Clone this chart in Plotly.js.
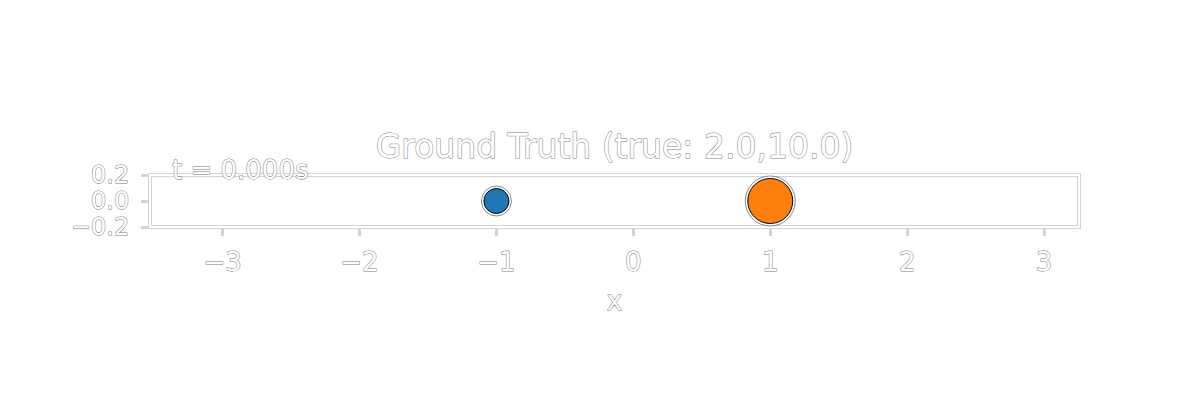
<!DOCTYPE html>
<html>
<head>
<meta charset="utf-8">
<script src="https://cdn.plot.ly/plotly-3.0.1.min.js"></script>
<style>
html,body{margin:0;padding:0;background:#fff;}
#chart{width:1200px;height:400px;}
#chart text{stroke:#7a7a7a;stroke-width:1px;paint-order:stroke fill;stroke-linejoin:round;}
</style>
</head>
<body>
<div id="chart"></div>
<script>
// Data
const positionsX = [-1, 1];
const positionsY = [0, 0];
const markerSizes = [25, 45];
const markerColors = ['#1f77b4', '#ff7f0e'];
const titleText = 'Ground Truth (true: 2.0,10.0)';
const timeLabel = 't = 0.000s';
const xTicks = [-3, -2, -1, 0, 1, 2, 3];
const yTicks = [-0.2, 0.0, 0.2];
const yTickText = ['\u22120.2', '0.0', '0.2'];
const xTickText = ['\u22123', '\u22122', '\u22121', '0', '1', '2', '3'];

const fontFam = 'DejaVu Sans, sans-serif';
const txt = (size) => ({ family: fontFam, size: size, color: '#ffffff' });

const traces = [
  { x: positionsX, y: positionsY, type: 'scatter', mode: 'markers', hoverinfo: 'skip',
    marker: { size: markerSizes.map(s => s + 5), color: '#ffffff', opacity: 1, line: { color: '#888', width: 1 } } },
  { x: positionsX, y: positionsY, type: 'scatter', mode: 'markers',
    marker: { size: markerSizes, color: markerColors, opacity: 1, line: { color: '#000', width: 1 } } }
];

const layout = {
  width: 1200, height: 400,
  paper_bgcolor: '#fff', plot_bgcolor: '#fff',
  showlegend: false,
  margin: { l: 150, r: 121, t: 175, b: 173 },
  font: txt(26),
  title: { text: titleText, xref: 'paper', x: 0.5, xanchor: 'center', yref: 'container', y: 1 - 146/400, yanchor: 'middle',
           font: txt(33) },
  xaxis: { range: [-3.53, 3.255], tickvals: xTicks, ticktext: xTickText, showgrid: false, zeroline: false,
           ticks: 'outside', ticklen: 8, tickwidth: 3, tickcolor: '#d4d4d4', showline: false,
           ticklabelstandoff: 4, tickfont: txt(26),
           title: { text: 'x', standoff: 15, font: txt(26) } },
  yaxis: { range: [-0.2, 0.2], tickvals: yTicks, ticktext: yTickText, showgrid: false, zeroline: false,
           ticks: 'outside', ticklen: 8, tickwidth: 3, tickcolor: '#d4d4d4', showline: false,
           ticklabelstandoff: 7, tickfont: txt(24) },
  shapes: [
    { type: 'rect', xref: 'paper', yref: 'paper', x0: 0, x1: 1, y0: 0, y1: 1, line: { color: '#d4d4d4', width: 4 }, layer: 'below' },
    { type: 'rect', xref: 'paper', yref: 'paper', x0: 0, x1: 1, y0: 0, y1: 1, line: { color: '#ffffff', width: 2 }, layer: 'below' }
  ],
  annotations: [
    { text: timeLabel, xref: 'paper', yref: 'paper', x: 0.0215, y: 1, xanchor: 'left', yanchor: 'middle', yshift: 5,
      showarrow: false, font: txt(26) }
  ]
};

Plotly.newPlot('chart', traces, layout, { displayModeBar: false, staticPlot: true });
</script>
</body>
</html>
